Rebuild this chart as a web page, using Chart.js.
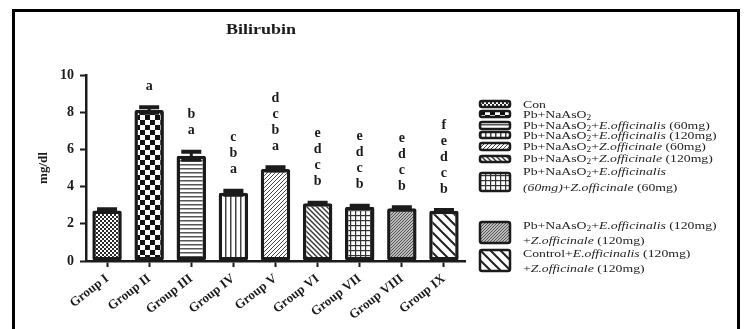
<!DOCTYPE html>
<html>
<head>
<meta charset="utf-8">
<script src="https://cdn.jsdelivr.net/npm/chart.js@4.4.1/dist/chart.umd.min.js"></script>
<style>
  html, body { margin: 0; padding: 0; background: #fff; }
  body { width: 745px; height: 329px; position: relative; overflow: hidden; }
  #frame { position: absolute; left: 12px; top: 9px; width: 728px; height: 400px;
           border: 3px solid #000; box-sizing: border-box; }
  #chart { position: absolute; left: 0; top: 0; }
  #swatches { position: absolute; left: 0; top: 0; }
  .lg { position: absolute; left: 523px; font-family: "Liberation Serif", "Times New Roman", serif;
        font-size: 11px; line-height: 11px; color: #1e1e1e; white-space: nowrap;
        transform: scaleX(1.25); transform-origin: 0 50%; }
  .lg sub { font-size: 7.5px; vertical-align: -2px; line-height: 0; }
</style>
</head>
<body>
<div id="frame"></div>
<canvas id="chart" width="745" height="329"></canvas>
<canvas id="swatches" width="745" height="329"></canvas>
<div id="legend"></div>
<script>
// Serum bilirubin (mg/dl), mean ± SEM per treatment group
const groups = ['Group I', 'Group II', 'Group III', 'Group IV', 'Group V',
                'Group VI', 'Group VII', 'Group VIII', 'Group IX'];
const means = [2.72, 8.12, 5.66, 3.67, 4.95, 3.10, 2.92, 2.83, 2.70];
const sems  = [0.12, 0.20, 0.27, 0.16, 0.14, 0.08, 0.11, 0.11, 0.09];
// significance letters, listed top to bottom
const letters = [[], ['a'], ['b', 'a'], ['c', 'b', 'a'], ['d', 'c', 'b', 'a'],
                 ['e', 'd', 'c', 'b'], ['e', 'd', 'c', 'b'], ['e', 'd', 'c', 'b'],
                 ['f', 'e', 'd', 'c', 'b']];
const patternKinds = ['checkSmall', 'checkLarge', 'hlines', 'vlines', 'diagFine',
                      'diagBack', 'grid', 'diagGray', 'diagWide'];
const legendLabels = [
  ['Con'],
  ['Pb+NaAsO<sub>2</sub>'],
  ['Pb+NaAsO<sub>2</sub>+<i>E.officinalis</i> (60mg)'],
  ['Pb+NaAsO<sub>2</sub>+<i>E.officinalis</i> (120mg)'],
  ['Pb+NaAsO<sub>2</sub>+<i>Z.officinale</i> (60mg)'],
  ['Pb+NaAsO<sub>2</sub>+<i>Z.officinale</i> (120mg)'],
  ['Pb+NaAsO<sub>2</sub>+<i>E.officinalis</i>', '<i>(60mg)</i>+<i>Z.officinale</i> (60mg)'],
  ['Pb+NaAsO<sub>2</sub>+<i>E.officinalis</i> (120mg)', '+<i>Z.officinale</i> (120mg)'],
  ['Control+<i>E.officinalis</i> (120mg)', '+<i>Z.officinale</i> (120mg)']
];
const title = 'Bilirubin';
const yTitle = 'mg/dl';

const INK = '#1b1b1b';
const SERIF = '"Liberation Serif", "Times New Roman", serif';

// Build a repeating fill pattern for a bar
function makePattern(kind) {
  const c = document.createElement('canvas');
  const sizes = { checkSmall: 4, checkLarge: 10, hlines: 4, vlines: 5, diagFine: 4,
                  diagBack: 5, grid: 5, diagGray: 3, diagWide: 10 };
  const n = sizes[kind];
  c.width = n; c.height = n;
  const g = c.getContext('2d');
  g.fillStyle = '#fff';
  g.fillRect(0, 0, n, n);
  g.fillStyle = '#333';
  g.strokeStyle = '#333';
  const diag = (w, forward) => {
    g.lineWidth = w;
    g.beginPath();
    for (const o of [-n, 0, n]) {
      if (forward) { g.moveTo(o - 1, n + 1); g.lineTo(o + n + 1, -1); }
      else { g.moveTo(o - 1, -1); g.lineTo(o + n + 1, n + 1); }
    }
    g.stroke();
  };
  switch (kind) {
    case 'checkSmall':
      g.fillStyle = '#2a2a2a';
      g.fillRect(0, 0, 2, 2); g.fillRect(2, 2, 2, 2);
      break;
    case 'checkLarge':
      g.fillStyle = '#111';
      g.fillRect(0, 0, 5, 5); g.fillRect(5, 5, 5, 5);
      break;
    case 'hlines':
      g.fillStyle = '#555'; g.fillRect(0, 0, n, 1.5);
      break;
    case 'vlines':
      g.fillStyle = '#444'; g.fillRect(0, 0, 1.5, n);
      break;
    case 'diagFine':
      g.strokeStyle = '#444'; diag(1, true);
      break;
    case 'diagBack':
      g.strokeStyle = '#333'; diag(1.4, false);
      break;
    case 'grid':
      g.fillStyle = '#333'; g.fillRect(0, 0, n, 1.2); g.fillRect(0, 0, 1.2, n);
      break;
    case 'diagGray':
      g.fillStyle = '#bbb'; g.fillRect(0, 0, n, n);
      g.strokeStyle = '#555'; diag(1, true);
      break;
    case 'diagWide':
      g.strokeStyle = '#222'; diag(2, false);
      break;
  }
  return document.getElementById('chart').getContext('2d').createPattern(c, 'repeat');
}

const fills = patternKinds.map(makePattern);

// Error bars (mean ± SEM) drawn through the y scale
const errorBars = {
  id: 'errorBars',
  afterDatasetsDraw(chart) {
    const { ctx, scales: { y } } = chart;
    const meta = chart.getDatasetMeta(0);
    ctx.save();
    ctx.strokeStyle = INK;
    ctx.lineCap = 'butt';
    meta.data.forEach((bar, i) => {
      const hi = y.getPixelForValue(means[i] + sems[i]);
      const lo = y.getPixelForValue(means[i] - sems[i]);
      ctx.lineWidth = 3;
      ctx.beginPath(); ctx.moveTo(bar.x, hi); ctx.lineTo(bar.x, lo); ctx.stroke();
      ctx.lineWidth = 4;
      ctx.beginPath();
      ctx.moveTo(bar.x - 10, hi + 1); ctx.lineTo(bar.x + 10, hi + 1);
      ctx.moveTo(bar.x - 10, lo - 1); ctx.lineTo(bar.x + 10, lo - 1);
      ctx.stroke();
    });
    ctx.restore();
  }
};

// Significance letters stacked above each error bar
const sigLetters = {
  id: 'sigLetters',
  afterDatasetsDraw(chart) {
    const { ctx, scales: { y } } = chart;
    const meta = chart.getDatasetMeta(0);
    ctx.save();
    ctx.fillStyle = INK;
    ctx.font = 'bold 14px ' + SERIF;
    ctx.textAlign = 'center';
    ctx.textBaseline = 'middle';
    meta.data.forEach((bar, i) => {
      const top = y.getPixelForValue(means[i] + sems[i]);
      const list = letters[i];
      list.forEach((ch, k) => {
        const row = list.length - 1 - k;
        ctx.fillText(ch, bar.x, top - 20 - row * 16);
      });
    });
    ctx.restore();
  }
};

// Chart title and y-axis title
const titles = {
  id: 'titles',
  afterDraw(chart) {
    const { ctx } = chart;
    ctx.save();
    ctx.fillStyle = INK;
    ctx.textAlign = 'center';
    ctx.textBaseline = 'middle';
    ctx.save();
    ctx.translate(261, 30);
    ctx.scale(1.2, 1);
    ctx.font = 'bold 15px ' + SERIF;
    ctx.fillText(title, 0, 0);
    ctx.restore();
    ctx.translate(44, 168);
    ctx.rotate(-Math.PI / 2);
    ctx.font = 'bold 13px ' + SERIF;
    ctx.fillText(yTitle, 0, 0);
    ctx.restore();
  }
};

new Chart(document.getElementById('chart'), {
  type: 'bar',
  data: {
    labels: groups,
    datasets: [{
      data: means,
      backgroundColor: fills,
      borderColor: INK,
      borderWidth: 3.5,
      borderRadius: 2,
      borderSkipped: false,
      barPercentage: 0.7,
      categoryPercentage: 1
    }]
  },
  options: {
    responsive: false,
    animation: false,
    events: [],
    layout: { padding: { left: 0, top: 75, right: 280, bottom: 0 } },
    plugins: { legend: { display: false }, tooltip: { enabled: false }, title: { display: false } },
    scales: {
      x: {
        afterFit(s) { s.height = 68; },
        grid: { offset: false, drawOnChartArea: false, drawTicks: true, tickLength: 6,
                tickWidth: 2, tickColor: INK },
        border: { color: INK, width: 2.5 },
        ticks: { minRotation: 38, maxRotation: 38, padding: 4, color: INK,
                 font: { family: SERIF, size: 13, weight: 'bold' } }
      },
      y: {
        min: 0, max: 10,
        afterFit(s) { s.width = 86; },
        grid: { drawOnChartArea: false, drawTicks: true, tickLength: 6,
                tickWidth: 2, tickColor: INK },
        border: { color: INK, width: 2.5 },
        ticks: { stepSize: 2, padding: 6, color: INK,
                 font: { family: SERIF, size: 14, weight: 'bold' } }
      }
    }
  },
  plugins: [errorBars, sigLetters, titles]
});

// Legend: swatches on their own canvas, labels as HTML text
const legendBoxes = [
  [101, 6], [111, 6], [122, 7], [132, 6], [143, 7], [156, 6], [173, 18], [222, 21], [250, 21]
];
const legendLines = [[104], [114], [125], [135], [146], [158], [171, 187], [225, 240], [253, 268]];
(function drawLegend() {
  const sc = document.getElementById('swatches').getContext('2d');
  legendBoxes.forEach(([top, h], i) => {
    sc.save();
    sc.beginPath();
    sc.roundRect(480, top, 30, h, 2);
    sc.fillStyle = fills[i];
    sc.fill();
    sc.lineWidth = 2.5;
    sc.strokeStyle = INK;
    sc.stroke();
    sc.restore();
  });
  const holder = document.getElementById('legend');
  legendLabels.forEach((lines, i) => {
    lines.forEach((html, k) => {
      const d = document.createElement('div');
      d.className = 'lg';
      d.innerHTML = html;
      d.style.top = (legendLines[i][k] - 5.5) + 'px';
      holder.appendChild(d);
    });
  });
})();
</script>
</body>
</html>
